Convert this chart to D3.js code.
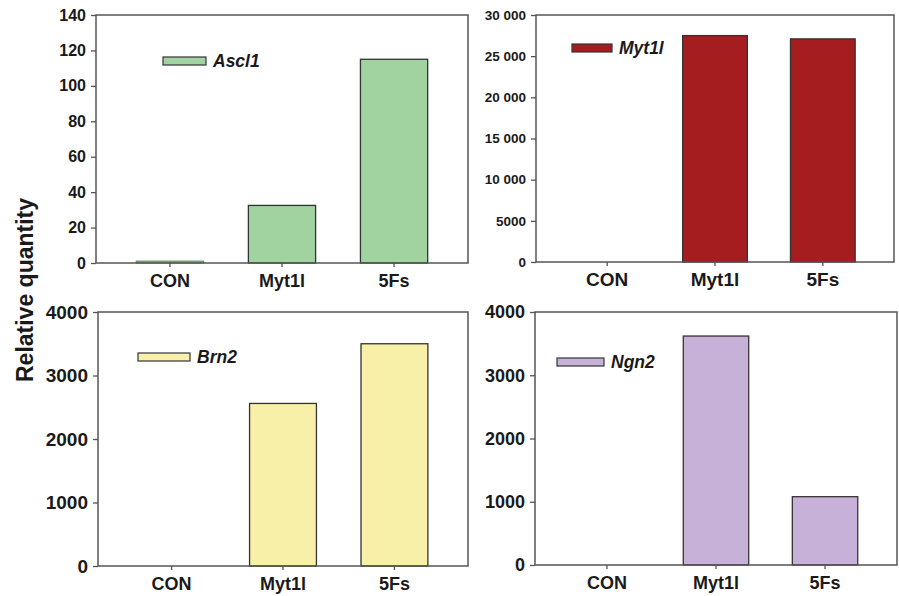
<!DOCTYPE html>
<html>
<head>
<meta charset="utf-8">
<script src="https://cdn.jsdelivr.net/npm/d3@7"></script>
<style>
  body { margin: 0; background: #fff; }
  svg text { font-family: "Liberation Sans", Arial, sans-serif; font-weight: bold; fill: #1a1a1a; }
</style>
</head>
<body>
<div id="chart"></div>
<script>
const categories = ["CON", "Myt1l", "5Fs"];

const ascl1Values = [1, 32.5, 115];
const myt1lValues = [1, 27500, 27100];
const brn2Values = [1, 2560, 3500];
const ngn2Values = [1, 3620, 1080];

const ascl1Ticks = [0, 20, 40, 60, 80, 100, 120, 140];
const myt1lTicks = [0, 5000, 10000, 15000, 20000, 25000, 30000];
const brn2Ticks = [0, 1000, 2000, 3000, 4000];
const ngn2Ticks = [0, 1000, 2000, 3000, 4000];

const width = 899;
const height = 596;

// one entry per panel; layout only
const panels = [
  { gene: "Ascl1", values: ascl1Values, ticks: ascl1Ticks, max: 140, color: "#a0d3a0",
    x0: 96, x1: 468, y0: 15, y1: 263, tickSize: 16, catSize: 18,
    legend: { dx: 67, dy: 46, w: 43 } },
  { gene: "Myt1l", values: myt1lValues, ticks: myt1lTicks, max: 30000, color: "#a51d1f",
    x0: 536, x1: 894, y0: 15, y1: 262, tickSize: 13.5, catSize: 19,
    legend: { dx: 36, dy: 33, w: 40 } },
  { gene: "Brn2", values: brn2Values, ticks: brn2Ticks, max: 4000, color: "#f8f0a8",
    x0: 98, x1: 468, y0: 312, y1: 566, tickSize: 19, catSize: 18,
    legend: { dx: 40, dy: 45, w: 52 } },
  { gene: "Ngn2", values: ngn2Values, ticks: ngn2Ticks, max: 4000, color: "#c8b1d8",
    x0: 535, x1: 897, y0: 312, y1: 565, tickSize: 18, catSize: 18,
    legend: { dx: 22, dy: 50, w: 47 } }
];

function fmt(v) {
  if (v < 10000) return String(v);
  return d3.format(",")(v).replace(/,/g, " ");
}

const svg = d3.select("#chart")
  .append("svg")
  .attr("width", width)
  .attr("height", height);

panels.forEach(p => {
  const x = d3.scaleBand()
    .domain(categories)
    .range([p.x0, p.x1])
    .paddingInner(0.4)
    .paddingOuter(0.36);
  const y = d3.scaleLinear()
    .domain([0, p.max])
    .range([p.y1, p.y0]);

  const g = svg.append("g");

  // bars (skip ones too small to see)
  g.selectAll(".bar")
    .data(categories.map((c, i) => ({ c, v: p.values[i] })).filter(d => y(0) - y(d.v) >= 1))
    .enter()
    .append("rect")
    .attr("class", "bar")
    .attr("x", d => x(d.c))
    .attr("y", d => y(d.v))
    .attr("width", x.bandwidth())
    .attr("height", d => y(0) - y(d.v))
    .style("fill", p.color)
    .style("stroke", d => (y(0) - y(d.v) < 3 ? "#6d8f6d" : "#333"))
    .style("stroke-width", 1.3);

  // frame
  g.append("rect")
    .attr("x", p.x0)
    .attr("y", p.y0)
    .attr("width", p.x1 - p.x0)
    .attr("height", p.y1 - p.y0)
    .style("fill", "none")
    .style("stroke", "#555")
    .style("stroke-width", 1.5);

  // y axis
  const yAxis = g.append("g")
    .attr("transform", `translate(${p.x0},0)`)
    .call(d3.axisLeft(y).tickValues(p.ticks).tickFormat(fmt).tickSize(5).tickPadding(5));
  yAxis.select(".domain").remove();
  yAxis.selectAll("line").style("stroke", "#555").style("stroke-width", 1.3);
  yAxis.selectAll("text")
    .style("font-size", p.tickSize + "px")
    .style("fill", "#1a1a1a")
    .style("font-family", "'Liberation Sans', Arial, sans-serif");

  // x axis
  const xAxis = g.append("g")
    .attr("transform", `translate(0,${p.y1})`)
    .call(d3.axisBottom(x).tickSize(4).tickPadding(7));
  xAxis.select(".domain").remove();
  xAxis.selectAll("line").style("stroke", "#555").style("stroke-width", 1.3);
  xAxis.selectAll("text")
    .style("font-size", p.catSize + "px")
    .style("fill", "#1a1a1a")
    .style("font-family", "'Liberation Sans', Arial, sans-serif");

  // legend
  const lx = p.x0 + p.legend.dx;
  const ly = p.y0 + p.legend.dy;
  g.append("rect")
    .attr("x", lx)
    .attr("y", ly - 4)
    .attr("width", p.legend.w)
    .attr("height", 8)
    .style("fill", p.color)
    .style("stroke", "#333")
    .style("stroke-width", 1.2);
  g.append("text")
    .attr("x", lx + p.legend.w + 7)
    .attr("y", ly + 6)
    .style("font-size", "17.5px")
    .style("font-style", "italic")
    .text(p.gene);
});

svg.append("text")
  .attr("transform", "translate(33,290) rotate(-90)")
  .attr("text-anchor", "middle")
  .style("font-size", "23px")
  .text("Relative quantity");
</script>
</body>
</html>
